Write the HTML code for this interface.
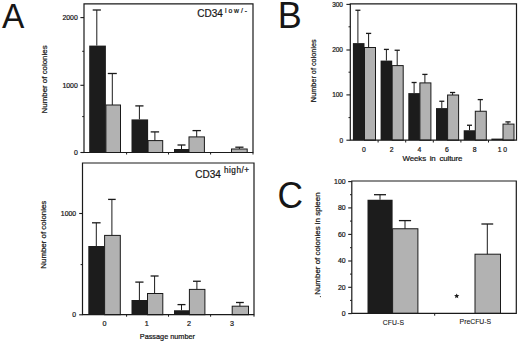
<!DOCTYPE html>
<html><head><meta charset="utf-8"><style>
html,body{margin:0;padding:0;background:#fff;}
body{width:520px;height:342px;overflow:hidden;}
svg{display:block;}
text{font-family:"Liberation Sans",sans-serif;fill:#161616;stroke:#161616;stroke-width:0.22px;}
.big{stroke-width:0;}
.thin{stroke-width:0.1px;}
</style></head><body>
<svg width="520" height="342" viewBox="0 0 520 342">
<rect width="520" height="342" fill="#fff"/>
<rect x="89.2" y="45.6" width="16.7" height="106.9" fill="#1c1c1c"/>
<line x1="96.8" y1="10" x2="96.8" y2="45.6" stroke="#1a1a1a" stroke-width="1.0"/>
<line x1="92.7" y1="10" x2="100.9" y2="10" stroke="#1a1a1a" stroke-width="1.3"/>
<rect x="105.9" y="105" width="14.6" height="47.5" fill="#b2b2b2" stroke="#1a1a1a" stroke-width="1.0"/>
<line x1="112.3" y1="73.5" x2="112.3" y2="105" stroke="#1a1a1a" stroke-width="1.0"/>
<line x1="107.8" y1="73.5" x2="116.8" y2="73.5" stroke="#1a1a1a" stroke-width="1.3"/>
<rect x="131.5" y="119.4" width="16.6" height="33.1" fill="#1c1c1c"/>
<line x1="139.4" y1="105.9" x2="139.4" y2="119.4" stroke="#1a1a1a" stroke-width="1.0"/>
<line x1="135.3" y1="105.9" x2="143.5" y2="105.9" stroke="#1a1a1a" stroke-width="1.3"/>
<rect x="148.1" y="140.6" width="14.6" height="11.9" fill="#b2b2b2" stroke="#1a1a1a" stroke-width="1.0"/>
<line x1="154.9" y1="131.9" x2="154.9" y2="140.6" stroke="#1a1a1a" stroke-width="1.0"/>
<line x1="150.7" y1="131.9" x2="159.1" y2="131.9" stroke="#1a1a1a" stroke-width="1.3"/>
<rect x="174" y="149" width="15" height="3.5" fill="#1c1c1c"/>
<line x1="181.5" y1="145" x2="181.5" y2="149" stroke="#1a1a1a" stroke-width="1.0"/>
<line x1="177.5" y1="145" x2="185.5" y2="145" stroke="#1a1a1a" stroke-width="1.3"/>
<rect x="189" y="136.9" width="15.4" height="15.6" fill="#b2b2b2" stroke="#1a1a1a" stroke-width="1.0"/>
<line x1="196.7" y1="130.6" x2="196.7" y2="136.9" stroke="#1a1a1a" stroke-width="1.0"/>
<line x1="192.5" y1="130.6" x2="200.9" y2="130.6" stroke="#1a1a1a" stroke-width="1.3"/>
<rect x="231.5" y="149" width="15.7" height="3.5" fill="#b2b2b2" stroke="#1a1a1a" stroke-width="1.0"/>
<line x1="239.4" y1="147.2" x2="239.4" y2="149" stroke="#1a1a1a" stroke-width="1.0"/>
<line x1="235.3" y1="147.2" x2="243.5" y2="147.2" stroke="#1a1a1a" stroke-width="1.3"/>
<path d="M84 152.5 L84 3.8 L253 3.8 L253 152.5 Z" fill="none" stroke="#1a1a1a" stroke-width="1.2"/>
<line x1="80.4" y1="152.5" x2="84" y2="152.5" stroke="#1a1a1a" stroke-width="1.1"/>
<text x="77.8" y="154.9" font-size="6.9" text-anchor="end" >0</text>
<line x1="80.4" y1="85.3" x2="84" y2="85.3" stroke="#1a1a1a" stroke-width="1.1"/>
<text x="77.8" y="87.7" font-size="6.9" text-anchor="end" >1000</text>
<line x1="80.4" y1="17.6" x2="84" y2="17.6" stroke="#1a1a1a" stroke-width="1.1"/>
<text x="77.8" y="20.0" font-size="6.9" text-anchor="end" >2000</text>
<line x1="82.2" y1="116.6" x2="84" y2="116.6" stroke="#1a1a1a" stroke-width="1.0"/>
<line x1="82.2" y1="51.3" x2="84" y2="51.3" stroke="#1a1a1a" stroke-width="1.0"/>
<line x1="126.6" y1="152.5" x2="126.6" y2="154.5" stroke="#1a1a1a" stroke-width="1.0"/>
<line x1="168.5" y1="152.5" x2="168.5" y2="154.5" stroke="#1a1a1a" stroke-width="1.0"/>
<line x1="210.6" y1="152.5" x2="210.6" y2="154.5" stroke="#1a1a1a" stroke-width="1.0"/>
<line x1="253" y1="152.5" x2="253" y2="154.5" stroke="#1a1a1a" stroke-width="1.0"/>
<text x="197.2" y="16.9" font-size="10" text-anchor="start" >CD34</text>
<text x="225" y="12.7" font-size="6.8" text-anchor="start" letter-spacing="1.9">low/-</text>
<text x="0" y="0" font-size="7.9" text-anchor="middle" transform="translate(46.7,79.4) rotate(-90)" >Number of colonies</text>
<rect x="88.3" y="246" width="16.3" height="68.7" fill="#1c1c1c"/>
<line x1="96.3" y1="222.8" x2="96.3" y2="246" stroke="#1a1a1a" stroke-width="1.0"/>
<line x1="92" y1="222.8" x2="100.6" y2="222.8" stroke="#1a1a1a" stroke-width="1.3"/>
<rect x="104.6" y="235.4" width="15.7" height="79.3" fill="#b2b2b2" stroke="#1a1a1a" stroke-width="1.0"/>
<line x1="111.9" y1="199.4" x2="111.9" y2="235.4" stroke="#1a1a1a" stroke-width="1.0"/>
<line x1="108.1" y1="199.4" x2="115.7" y2="199.4" stroke="#1a1a1a" stroke-width="1.3"/>
<rect x="131.5" y="300" width="16" height="14.7" fill="#1c1c1c"/>
<line x1="139.4" y1="282.1" x2="139.4" y2="300" stroke="#1a1a1a" stroke-width="1.0"/>
<line x1="135.3" y1="282.1" x2="143.5" y2="282.1" stroke="#1a1a1a" stroke-width="1.3"/>
<rect x="147.5" y="293.5" width="15.3" height="21.2" fill="#b2b2b2" stroke="#1a1a1a" stroke-width="1.0"/>
<line x1="154.6" y1="276" x2="154.6" y2="293.5" stroke="#1a1a1a" stroke-width="1.0"/>
<line x1="150.6" y1="276" x2="158.6" y2="276" stroke="#1a1a1a" stroke-width="1.3"/>
<rect x="174" y="310.25" width="15.4" height="4.45" fill="#1c1c1c"/>
<line x1="181.5" y1="304.6" x2="181.5" y2="310.25" stroke="#1a1a1a" stroke-width="1.0"/>
<line x1="177.5" y1="304.6" x2="185.5" y2="304.6" stroke="#1a1a1a" stroke-width="1.3"/>
<rect x="189.4" y="289.4" width="15.5" height="25.3" fill="#b2b2b2" stroke="#1a1a1a" stroke-width="1.0"/>
<line x1="196.9" y1="281.25" x2="196.9" y2="289.4" stroke="#1a1a1a" stroke-width="1.0"/>
<line x1="193" y1="281.25" x2="200.8" y2="281.25" stroke="#1a1a1a" stroke-width="1.3"/>
<rect x="232.2" y="306.2" width="16.3" height="8.5" fill="#b2b2b2" stroke="#1a1a1a" stroke-width="1.0"/>
<line x1="239.9" y1="302.5" x2="239.9" y2="306.2" stroke="#1a1a1a" stroke-width="1.0"/>
<line x1="236" y1="302.5" x2="243.8" y2="302.5" stroke="#1a1a1a" stroke-width="1.3"/>
<path d="M82.5 314.7 L82.5 163.0 L254 163.0 L254 314.7 Z" fill="none" stroke="#1a1a1a" stroke-width="1.2"/>
<line x1="79.2" y1="314.8" x2="82.5" y2="314.8" stroke="#1a1a1a" stroke-width="1.1"/>
<text x="76.2" y="317.2" font-size="6.9" text-anchor="end" >0</text>
<line x1="79.2" y1="213.5" x2="82.5" y2="213.5" stroke="#1a1a1a" stroke-width="1.1"/>
<text x="76.2" y="215.9" font-size="6.9" text-anchor="end" >1000</text>
<line x1="80.6" y1="264.6" x2="82.5" y2="264.6" stroke="#1a1a1a" stroke-width="1.0"/>
<line x1="126.6" y1="314.7" x2="126.6" y2="316.7" stroke="#1a1a1a" stroke-width="1.0"/>
<line x1="168.5" y1="314.7" x2="168.5" y2="316.7" stroke="#1a1a1a" stroke-width="1.0"/>
<line x1="210.6" y1="314.7" x2="210.6" y2="316.7" stroke="#1a1a1a" stroke-width="1.0"/>
<line x1="254" y1="314.7" x2="254" y2="316.7" stroke="#1a1a1a" stroke-width="1.0"/>
<text x="104.5" y="326" font-size="7.2" text-anchor="middle" >0</text>
<text x="146.7" y="326" font-size="7.2" text-anchor="middle" >1</text>
<text x="189" y="326" font-size="7.2" text-anchor="middle" >2</text>
<text x="232" y="326" font-size="7.2" text-anchor="middle" >3</text>
<text x="139.8" y="338.9" font-size="7.3" text-anchor="start" >Passage number</text>
<text x="195.3" y="177.6" font-size="10" text-anchor="start" >CD34</text>
<text x="224.0" y="172.8" font-size="8.2" text-anchor="start" letter-spacing="0.5">high/+</text>
<text x="0" y="0" font-size="7.9" text-anchor="middle" transform="translate(46.3,234.7) rotate(-90)" >Number of colonies</text>
<text class="big" x="0" y="0" font-size="36" transform="translate(2.0,27.7) scale(0.93,1)">A</text>
<rect x="352.9" y="43.1" width="11.6" height="97.1" fill="#1c1c1c"/>
<line x1="357.9" y1="10.25" x2="357.9" y2="43.1" stroke="#1a1a1a" stroke-width="1.0"/>
<line x1="355.4" y1="10.25" x2="360.4" y2="10.25" stroke="#1a1a1a" stroke-width="1.3"/>
<rect x="364.5" y="47.5" width="11" height="92.7" fill="#b2b2b2" stroke="#1a1a1a" stroke-width="1.0"/>
<line x1="368.6" y1="33.4" x2="368.6" y2="47.5" stroke="#1a1a1a" stroke-width="1.0"/>
<line x1="366" y1="33.4" x2="371.2" y2="33.4" stroke="#1a1a1a" stroke-width="1.3"/>
<rect x="380.6" y="60.6" width="11.6" height="79.6" fill="#1c1c1c"/>
<line x1="386.4" y1="49.4" x2="386.4" y2="60.6" stroke="#1a1a1a" stroke-width="1.0"/>
<line x1="383.9" y1="49.4" x2="388.9" y2="49.4" stroke="#1a1a1a" stroke-width="1.3"/>
<rect x="392.2" y="65.6" width="11" height="74.6" fill="#b2b2b2" stroke="#1a1a1a" stroke-width="1.0"/>
<line x1="397.2" y1="50.25" x2="397.2" y2="65.6" stroke="#1a1a1a" stroke-width="1.0"/>
<line x1="394.6" y1="50.25" x2="399.8" y2="50.25" stroke="#1a1a1a" stroke-width="1.3"/>
<rect x="408.3" y="93.1" width="11.6" height="47.1" fill="#1c1c1c"/>
<line x1="414.1" y1="82.5" x2="414.1" y2="93.1" stroke="#1a1a1a" stroke-width="1.0"/>
<line x1="411.6" y1="82.5" x2="416.6" y2="82.5" stroke="#1a1a1a" stroke-width="1.3"/>
<rect x="419.9" y="82.9" width="11" height="57.3" fill="#b2b2b2" stroke="#1a1a1a" stroke-width="1.0"/>
<line x1="424.9" y1="74.4" x2="424.9" y2="82.9" stroke="#1a1a1a" stroke-width="1.0"/>
<line x1="422.3" y1="74.4" x2="427.5" y2="74.4" stroke="#1a1a1a" stroke-width="1.3"/>
<rect x="436" y="108.1" width="11.6" height="32.1" fill="#1c1c1c"/>
<line x1="441.8" y1="101.25" x2="441.8" y2="108.1" stroke="#1a1a1a" stroke-width="1.0"/>
<line x1="439.3" y1="101.25" x2="444.3" y2="101.25" stroke="#1a1a1a" stroke-width="1.3"/>
<rect x="447.6" y="95" width="11" height="45.2" fill="#b2b2b2" stroke="#1a1a1a" stroke-width="1.0"/>
<line x1="452.6" y1="92.5" x2="452.6" y2="95" stroke="#1a1a1a" stroke-width="1.0"/>
<line x1="450" y1="92.5" x2="455.2" y2="92.5" stroke="#1a1a1a" stroke-width="1.3"/>
<rect x="463.7" y="130.25" width="11.6" height="9.95" fill="#1c1c1c"/>
<line x1="469.5" y1="125.25" x2="469.5" y2="130.25" stroke="#1a1a1a" stroke-width="1.0"/>
<line x1="467" y1="125.25" x2="472" y2="125.25" stroke="#1a1a1a" stroke-width="1.3"/>
<rect x="475.3" y="111.25" width="11" height="28.95" fill="#b2b2b2" stroke="#1a1a1a" stroke-width="1.0"/>
<line x1="480.3" y1="99.6" x2="480.3" y2="111.25" stroke="#1a1a1a" stroke-width="1.0"/>
<line x1="477.7" y1="99.6" x2="482.9" y2="99.6" stroke="#1a1a1a" stroke-width="1.3"/>
<rect x="491.4" y="138.6" width="11.6" height="1.6" fill="#1c1c1c"/>
<rect x="503" y="124.1" width="11" height="16.1" fill="#b2b2b2" stroke="#1a1a1a" stroke-width="1.0"/>
<line x1="508" y1="121.9" x2="508" y2="124.1" stroke="#1a1a1a" stroke-width="1.0"/>
<line x1="505.4" y1="121.9" x2="510.6" y2="121.9" stroke="#1a1a1a" stroke-width="1.3"/>
<path d="M350.3 140.2 L350.3 3.8 L516.5 3.8 L516.5 140.2 Z" fill="none" stroke="#1a1a1a" stroke-width="1.2"/>
<line x1="346.4" y1="140.2" x2="350.3" y2="140.2" stroke="#1a1a1a" stroke-width="1.1"/>
<text x="343.0" y="142.5" font-size="6.5" text-anchor="end" >0</text>
<line x1="346.4" y1="94.9" x2="350.3" y2="94.9" stroke="#1a1a1a" stroke-width="1.1"/>
<text x="343.0" y="97.2" font-size="6.5" text-anchor="end" >100</text>
<line x1="346.4" y1="50" x2="350.3" y2="50" stroke="#1a1a1a" stroke-width="1.1"/>
<text x="343.0" y="52.3" font-size="6.5" text-anchor="end" >200</text>
<line x1="346.4" y1="4.4" x2="350.3" y2="4.4" stroke="#1a1a1a" stroke-width="1.1"/>
<text x="343.0" y="6.7" font-size="6.5" text-anchor="end" >300</text>
<line x1="348.5" y1="117.6" x2="350.3" y2="117.6" stroke="#1a1a1a" stroke-width="1.0"/>
<line x1="348.5" y1="72.2" x2="350.3" y2="72.2" stroke="#1a1a1a" stroke-width="1.0"/>
<line x1="348.5" y1="26.8" x2="350.3" y2="26.8" stroke="#1a1a1a" stroke-width="1.0"/>
<line x1="378.1" y1="140.2" x2="378.1" y2="142.5" stroke="#1a1a1a" stroke-width="1.0"/>
<line x1="405.7" y1="140.2" x2="405.7" y2="142.5" stroke="#1a1a1a" stroke-width="1.0"/>
<line x1="433.3" y1="140.2" x2="433.3" y2="142.5" stroke="#1a1a1a" stroke-width="1.0"/>
<line x1="460.9" y1="140.2" x2="460.9" y2="142.5" stroke="#1a1a1a" stroke-width="1.0"/>
<line x1="488.5" y1="140.2" x2="488.5" y2="142.5" stroke="#1a1a1a" stroke-width="1.0"/>
<text x="363.9" y="151.7" font-size="6.8" text-anchor="middle" xml:space="preserve">0</text>
<text x="391.59999999999997" y="151.7" font-size="6.8" text-anchor="middle" xml:space="preserve">2</text>
<text x="419.29999999999995" y="151.7" font-size="6.8" text-anchor="middle" xml:space="preserve">4</text>
<text x="447.0" y="151.7" font-size="6.8" text-anchor="middle" xml:space="preserve">6</text>
<text x="474.7" y="151.7" font-size="6.8" text-anchor="middle" xml:space="preserve">8</text>
<text x="502.4" y="151.7" font-size="6.8" text-anchor="middle" xml:space="preserve">1 0</text>
<text x="402.6" y="161.3" font-size="7.9" text-anchor="start" word-spacing="1.7" letter-spacing="-0.12">Weeks in culture</text>
<text x="0" y="0" font-size="7.3" text-anchor="middle" transform="translate(316.3,70.7) rotate(-90)" >Number of colonies</text>
<text class="big" x="0" y="0" font-size="36" transform="translate(277.7,28.0)">B</text>
<rect x="367.5" y="199.75" width="25.1" height="113.65" fill="#1c1c1c"/>
<line x1="380" y1="194.7" x2="380" y2="199.75" stroke="#1a1a1a" stroke-width="1.0"/>
<line x1="374" y1="194.7" x2="386" y2="194.7" stroke="#1a1a1a" stroke-width="1.3"/>
<rect x="392.6" y="228.75" width="25.3" height="84.65" fill="#b2b2b2" stroke="#1a1a1a" stroke-width="1.0"/>
<line x1="405" y1="220.6" x2="405" y2="228.75" stroke="#1a1a1a" stroke-width="1.0"/>
<line x1="398.9" y1="220.6" x2="411.1" y2="220.6" stroke="#1a1a1a" stroke-width="1.3"/>
<rect x="475" y="254.2" width="25.5" height="59.2" fill="#b2b2b2" stroke="#1a1a1a" stroke-width="1.0"/>
<line x1="487.3" y1="224" x2="487.3" y2="254.2" stroke="#1a1a1a" stroke-width="1.0"/>
<line x1="481.4" y1="224" x2="493.2" y2="224" stroke="#1a1a1a" stroke-width="1.3"/>
<path d="M351.8 313.4 L351.8 181.0 L516.3 181.0 L516.3 313.4 Z" fill="none" stroke="#1a1a1a" stroke-width="1.2"/>
<line x1="348.2" y1="313.6" x2="351.8" y2="313.6" stroke="#1a1a1a" stroke-width="1.1"/>
<text x="345.6" y="316.0" font-size="6.9" text-anchor="end" >0</text>
<line x1="348.2" y1="287.3" x2="351.8" y2="287.3" stroke="#1a1a1a" stroke-width="1.1"/>
<text x="345.6" y="289.7" font-size="6.9" text-anchor="end" >20</text>
<line x1="348.2" y1="261" x2="351.8" y2="261" stroke="#1a1a1a" stroke-width="1.1"/>
<text x="345.6" y="263.4" font-size="6.9" text-anchor="end" >40</text>
<line x1="348.2" y1="234.4" x2="351.8" y2="234.4" stroke="#1a1a1a" stroke-width="1.1"/>
<text x="345.6" y="236.8" font-size="6.9" text-anchor="end" >60</text>
<line x1="348.2" y1="207.9" x2="351.8" y2="207.9" stroke="#1a1a1a" stroke-width="1.1"/>
<text x="345.6" y="210.3" font-size="6.9" text-anchor="end" >80</text>
<line x1="348.2" y1="181.6" x2="351.8" y2="181.6" stroke="#1a1a1a" stroke-width="1.1"/>
<text x="345.6" y="184.0" font-size="6.9" text-anchor="end" >100</text>
<line x1="350" y1="300.4" x2="351.8" y2="300.4" stroke="#1a1a1a" stroke-width="1.0"/>
<line x1="350" y1="274.1" x2="351.8" y2="274.1" stroke="#1a1a1a" stroke-width="1.0"/>
<line x1="350" y1="247.7" x2="351.8" y2="247.7" stroke="#1a1a1a" stroke-width="1.0"/>
<line x1="350" y1="221.1" x2="351.8" y2="221.1" stroke="#1a1a1a" stroke-width="1.0"/>
<line x1="350" y1="194.7" x2="351.8" y2="194.7" stroke="#1a1a1a" stroke-width="1.0"/>
<line x1="434.7" y1="313.4" x2="434.7" y2="315.7" stroke="#1a1a1a" stroke-width="1.0"/>
<text x="382.8" y="324.6" font-size="6.8" text-anchor="start" letter-spacing="0.1" class="thin">CFU-S</text>
<text x="459.6" y="324.4" font-size="6.85" text-anchor="start" class="thin">PreCFU-S</text>
<polygon points="456.70,293.40 457.41,295.12 459.27,295.27 457.86,296.48 458.29,298.28 456.70,297.31 455.11,298.28 455.54,296.48 454.13,295.27 455.99,295.12" fill="#1a1a1a"/>
<text x="0" y="0" font-size="7.95" text-anchor="middle" transform="translate(319.6,243.6) rotate(-90)" >Number of colonies in spleen</text>
<circle cx="320.4" cy="296.6" r="0.6" fill="#333"/>
<text class="big" x="0" y="0" font-size="37" transform="translate(277.5,208) scale(0.955,1)">C</text>
</svg>
</body></html>
